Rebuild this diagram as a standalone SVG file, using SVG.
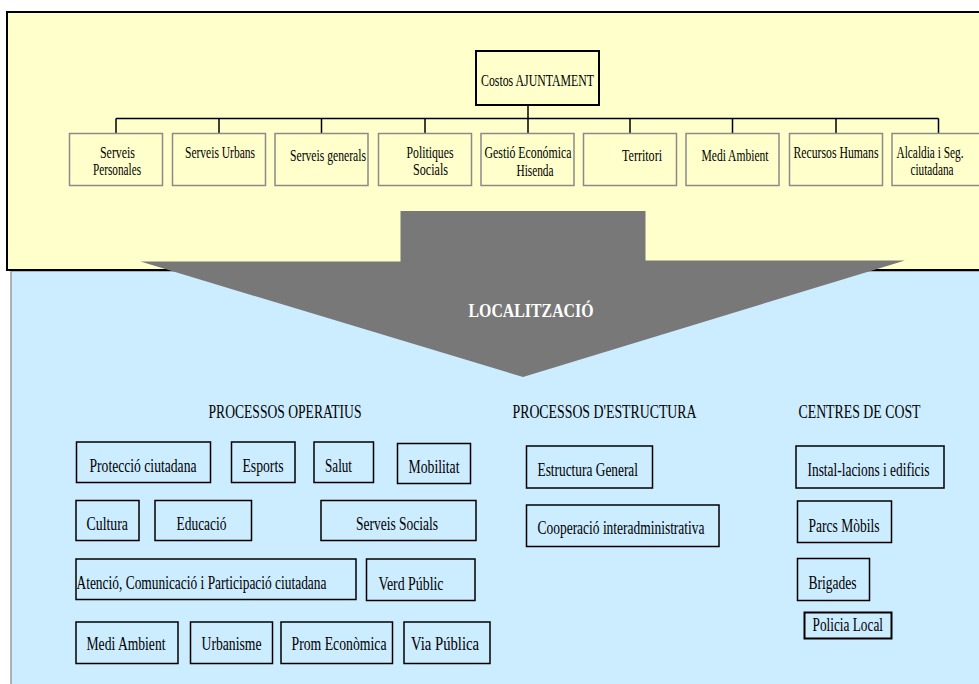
<svg xmlns="http://www.w3.org/2000/svg" width="979" height="684" viewBox="0 0 979 684">
<style>
.t{font-family:"Liberation Serif","Times New Roman",serif;fill:#000}
.c{font-size:16px;text-anchor:middle}
.b{font-size:19.5px}
.h{font-size:18px}
.cb{fill:#FFFFCC;stroke:#8a8a8a;stroke-width:1.5}
.bb{fill:none;stroke:#000;stroke-width:1.5}
.ln{stroke:#000;stroke-width:1.5;fill:none}
</style>
<rect x="11" y="271" width="990" height="420" fill="#CCECFF" stroke="#9a9a9a" stroke-width="1.5"/>
<rect x="7" y="12" width="990" height="258" fill="#FFFFCC" stroke="#000" stroke-width="2"/>
<g id="connectors">
<path class="ln" d="M528 105V133.5M116 118.5H938.5M116 118.5V133.5M219 118.5V133.5M321.5 118.5V133.5M425 118.5V133.5M630 118.5V133.5M732.5 118.5V133.5M836 118.5V133.5M938.5 118.5V133.5"/>
</g>
<g id="costos">
<rect x="476" y="51" width="123" height="54" fill="#FFFFCC" stroke="#000" stroke-width="2"/>
<text class="t" x="481" y="86" font-size="17" textLength="113" lengthAdjust="spacingAndGlyphs">Costos AJUNTAMENT</text>
</g>
<g id="n1"><rect class="cb" x="69.5" y="133.5" width="93" height="52"/>
<text class="t c" x="117.5" y="157.5" textLength="35" lengthAdjust="spacingAndGlyphs">Serveis</text>
<text class="t c" x="117" y="174.5" textLength="48" lengthAdjust="spacingAndGlyphs">Personales</text></g>
<g id="n2"><rect class="cb" x="172.5" y="133.5" width="93" height="52"/>
<text class="t c" x="220" y="158" textLength="70" lengthAdjust="spacingAndGlyphs">Serveis Urbans</text></g>
<g id="n3"><rect class="cb" x="275" y="133.5" width="93" height="52"/>
<text class="t c" x="328" y="161" textLength="76" lengthAdjust="spacingAndGlyphs">Serveis generals</text></g>
<g id="n4"><rect class="cb" x="378.5" y="133.5" width="93" height="52"/>
<text class="t c" x="430" y="157.5" textLength="47" lengthAdjust="spacingAndGlyphs">Politiques</text>
<text class="t c" x="430.5" y="174.5" textLength="35" lengthAdjust="spacingAndGlyphs">Socials</text></g>
<g id="n5"><rect class="cb" x="481" y="133.5" width="93" height="52"/>
<text class="t c" x="528" y="157.5" textLength="87" lengthAdjust="spacingAndGlyphs">Gestió Económica</text>
<text class="t c" x="535" y="175.5" textLength="37" lengthAdjust="spacingAndGlyphs">Hisenda</text></g>
<g id="n6"><rect class="cb" x="583.5" y="133.5" width="93" height="52"/>
<text class="t c" x="642" y="161" textLength="40" lengthAdjust="spacingAndGlyphs">Territori</text></g>
<g id="n7"><rect class="cb" x="686" y="133.5" width="93" height="52"/>
<text class="t c" x="735" y="161" textLength="67" lengthAdjust="spacingAndGlyphs">Medi Ambient</text></g>
<g id="n8"><rect class="cb" x="789.5" y="133.5" width="93" height="52"/>
<text class="t c" x="836" y="158" textLength="85" lengthAdjust="spacingAndGlyphs">Recursos Humans</text></g>
<g id="n9"><rect class="cb" x="892" y="133.5" width="93" height="52"/>
<text class="t c" x="930" y="157.5" textLength="67" lengthAdjust="spacingAndGlyphs">Alcaldia i Seg.</text>
<text class="t c" x="932" y="174.5" textLength="43" lengthAdjust="spacingAndGlyphs">ciutadana</text></g>
<g id="arrow">
<polygon points="400.5,211 645.5,211 645.5,260.5 905,260.5 523,377 140.5,261.5 400.5,261.5" fill="#787878"/>
<text x="531" y="317" font-family="Liberation Serif,serif" font-size="19" font-weight="bold" fill="#fff" text-anchor="middle" textLength="125" lengthAdjust="spacingAndGlyphs">LOCALITZACIÓ</text>
</g>
<g id="headings">
<text class="t h" x="208.5" y="418" textLength="153" lengthAdjust="spacingAndGlyphs">PROCESSOS OPERATIUS</text>
<text class="t h" x="512.5" y="418" textLength="184" lengthAdjust="spacingAndGlyphs">PROCESSOS D'ESTRUCTURA</text>
<text class="t h" x="798.5" y="418" textLength="122" lengthAdjust="spacingAndGlyphs">CENTRES DE COST</text>
</g>
<g id="b1"><rect class="bb" x="76.5" y="442" width="134" height="40.5"/><text class="t b" x="89.5" y="472" textLength="107" lengthAdjust="spacingAndGlyphs">Protecció ciutadana</text></g>
<g id="b2"><rect class="bb" x="231.5" y="442" width="63.5" height="40.5"/><text class="t b" x="242.5" y="472" textLength="41" lengthAdjust="spacingAndGlyphs">Esports</text></g>
<g id="b3"><rect class="bb" x="314" y="442" width="59.5" height="40.5"/><text class="t b" x="325" y="472" textLength="27" lengthAdjust="spacingAndGlyphs">Salut</text></g>
<g id="b4"><rect class="bb" x="397.5" y="443.5" width="73" height="40"/><text class="t b" x="408.5" y="473" textLength="51" lengthAdjust="spacingAndGlyphs">Mobilitat</text></g>
<g id="b5"><rect class="bb" x="76" y="500.5" width="63" height="40"/><text class="t b" x="86.5" y="530" textLength="41.5" lengthAdjust="spacingAndGlyphs">Cultura</text></g>
<g id="b6"><rect class="bb" x="155" y="500.5" width="96.5" height="40"/><text class="t b" x="176.5" y="530" textLength="50" lengthAdjust="spacingAndGlyphs">Educació</text></g>
<g id="b7"><rect class="bb" x="321" y="500.5" width="155" height="40"/><text class="t b" x="356" y="530" textLength="82" lengthAdjust="spacingAndGlyphs">Serveis Socials</text></g>
<g id="b8"><rect class="bb" x="76" y="559" width="280" height="40.5"/><text class="t b" x="76.5" y="589" textLength="250" lengthAdjust="spacingAndGlyphs">Atenció, Comunicació i Participació ciutadana</text></g>
<g id="b9"><rect class="bb" x="366.5" y="559" width="108.5" height="41.5"/><text class="t b" x="378.5" y="590" textLength="65" lengthAdjust="spacingAndGlyphs">Verd Públic</text></g>
<g id="b10"><rect class="bb" x="76" y="622" width="102" height="41.5"/><text class="t b" x="86.5" y="650" textLength="79" lengthAdjust="spacingAndGlyphs">Medi Ambient</text></g>
<g id="b11"><rect class="bb" x="190.5" y="622" width="82" height="41.5"/><text class="t b" x="201.5" y="650" textLength="60" lengthAdjust="spacingAndGlyphs">Urbanisme</text></g>
<g id="b12"><rect class="bb" x="281" y="622" width="111.5" height="41.5"/><text class="t b" x="291.5" y="650" textLength="95" lengthAdjust="spacingAndGlyphs">Prom Econòmica</text></g>
<g id="b13"><rect class="bb" x="404" y="622" width="86" height="41.5"/><text class="t b" x="411" y="650" textLength="68" lengthAdjust="spacingAndGlyphs">Via Pública</text></g>
<g id="b14"><rect class="bb" x="526.5" y="446" width="126" height="42"/><text class="t b" x="537.5" y="476" textLength="100.5" lengthAdjust="spacingAndGlyphs">Estructura General</text></g>
<g id="b15"><rect class="bb" x="526.5" y="505" width="192.5" height="41.5"/><text class="t b" x="537.5" y="534" textLength="167" lengthAdjust="spacingAndGlyphs">Cooperació interadministrativa</text></g>
<g id="b16"><rect class="bb" x="796" y="446" width="148" height="42"/><text class="t b" x="807.5" y="476" textLength="122" lengthAdjust="spacingAndGlyphs">Instal-lacions i edificis</text></g>
<g id="b17"><rect class="bb" x="797.5" y="501" width="94" height="41.5"/><text class="t b" x="808.5" y="532" textLength="71" lengthAdjust="spacingAndGlyphs">Parcs Mòbils</text></g>
<g id="b18"><rect class="bb" x="797.5" y="558.5" width="72" height="42"/><text class="t b" x="808.5" y="589" textLength="48" lengthAdjust="spacingAndGlyphs">Brigades</text></g>
<g id="b19"><rect x="804.5" y="612.5" width="87" height="26" fill="none" stroke="#000" stroke-width="2"/><text class="t b" x="812.5" y="631" textLength="70.5" lengthAdjust="spacingAndGlyphs">Policia Local</text></g>
</svg>
